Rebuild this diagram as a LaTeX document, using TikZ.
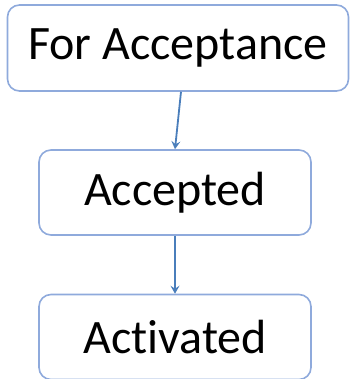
\documentclass[tikz,border=0pt]{standalone}
\usepackage{fontspec}
\setmainfont{Carlito}[Ligatures=NoCommon]
\usetikzlibrary{arrows.meta}
\definecolor{boxline}{HTML}{8FAADC}
\definecolor{arrowline}{HTML}{4A7EBB}
\tikzset{state/.style={rectangle,draw=boxline,line width=1.6pt,rounded corners=12pt,fill=white,inner sep=0pt,font=\fontsize{48}{57}\selectfont}}
\tikzset{flow/.style={draw=arrowline,line width=1.8pt,-{Stealth[length=8pt,width=9pt,inset=3pt]}}}

\begin{document}
\begin{tikzpicture}[x=1pt,y=-1pt]

  \useasboundingbox (0,0) rectangle (350,379);

  \node[state,minimum width=341pt,minimum height=86pt] (forAcc) at (178,48) {For Acceptance};

  \foreach \y/\name/\label in {192.5/acc/Accepted, 337/act/Activated}
          \node[state,minimum width=272pt,minimum height=85pt] (\name) at (175,\y) {\label};

  \path[flow] ([xshift=3pt]forAcc.south) -- (acc.north);
  \path[flow] (acc) -- (act);

\end{tikzpicture}
\end{document}
